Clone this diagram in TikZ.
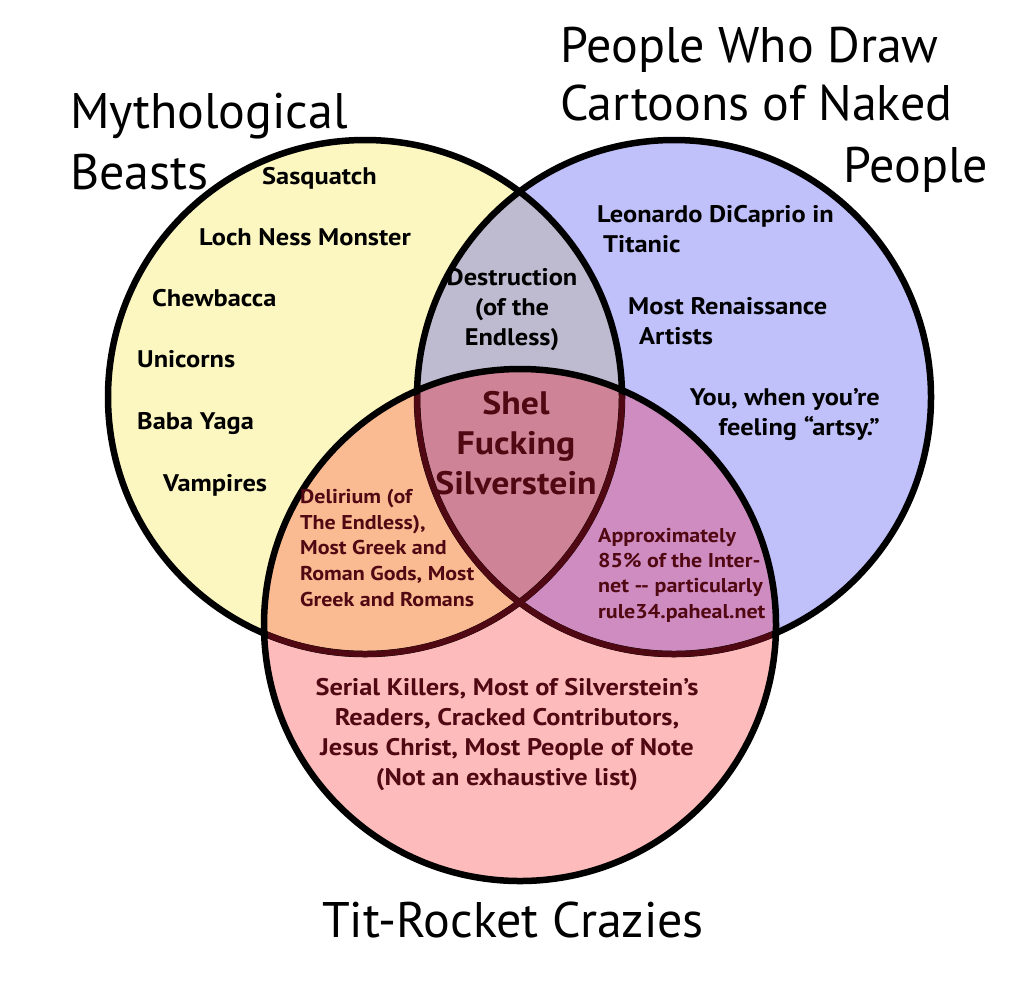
\documentclass[tikz,border=0pt]{standalone}
\usepackage{fontspec}
\setmainfont{PT Sans}[BoldFeatures={FakeStretch=1.1}]
\definecolor{yfill}{RGB}{252,246,192}
\definecolor{bfill}{RGB}{192,192,250}
\definecolor{lfill}{RGB}{190,186,207}
\definecolor{pfill}{RGB}{253,187,187}
\definecolor{ofill}{RGB}{250,186,146}
\definecolor{ufill}{RGB}{206,140,192}
\definecolor{mfill}{RGB}{206,132,150}
\definecolor{maroon}{RGB}{80,8,18}
\begin{document}
\begin{tikzpicture}[x=1pt,y=-1pt,
  lbl/.style={inner sep=0pt, font=\fontsize{24}{30}\selectfont\bfseries},
  lblin/.style={lbl, text=maroon},
  ttl/.style={inner sep=0pt, font=\fontsize{50}{58}\selectfont},
  ring/.style={line width=6.5pt},
  inring/.style={line width=6pt, draw=maroon}]
\useasboundingbox[fill=white] (0,0) rectangle (1024,994);
\coordinate (Y) at (365,397);
\coordinate (B) at (674,397);
\coordinate (P) at (520,625);
% base fills
\fill[yfill] (Y) circle[radius=257];
\fill[bfill] (B) circle[radius=257];
\begin{scope}
  \clip (Y) circle[radius=257];
  \fill[lfill] (B) circle[radius=257];
\end{scope}
\fill[pfill] (P) circle[radius=256];
\begin{scope}
  \clip (P) circle[radius=256];
  \fill[ofill] (Y) circle[radius=257];
  \fill[ufill] (B) circle[radius=257];
  \clip (Y) circle[radius=257];
  \fill[mfill] (B) circle[radius=257];
\end{scope}
% outlines
\draw[ring] (Y) circle[radius=257];
\draw[ring] (B) circle[radius=257];
\begin{scope}
  \clip (P) circle[radius=252];
  \draw[inring] (Y) circle[radius=257];
  \draw[inring] (B) circle[radius=257];
\end{scope}
\draw[ring] (P) circle[radius=256];
% titles
\node[ttl, anchor=base west] (t1a) at (70,128) {Mythological};
\node[ttl, anchor=base west] (t1b) at (70,189) {Beasts};
\node[ttl, anchor=base west] (t2a) at (560,62) {People Who Draw};
\node[ttl, anchor=base west] (t2b) at (560,120) {Cartoons of Naked};
\node[ttl, anchor=base west] (t2c) at (843,182) {People};
\node[ttl, anchor=base] (t3) at (513,937) {Tit-Rocket Crazies};
% yellow only
\node[lbl, anchor=base west] (sas) at (262,184) {Sasquatch};
\node[lbl, anchor=base west] (loch) at (199,245) {Loch Ness Monster};
\node[lbl, anchor=base west] (chew) at (152,306) {Chewbacca};
\node[lbl, anchor=base west] (uni) at (137,367) {Unicorns};
\node[lbl, anchor=base west] (baba) at (137,429) {Baba Yaga};
\node[lbl, anchor=base west] (vamp) at (163,491) {Vampires};
% yellow & blue
\node[lbl, align=center] (dest) at (512,310) {Destruction\\(of the\\Endless)};
% blue only
\node[lbl, align=left, anchor=west] (leo) at (597,229) {Leonardo DiCaprio in\\\hspace*{6pt}Titanic};
\node[lbl, align=left, anchor=west] (ren) at (628,321) {Most Renaissance\\\hspace*{11pt}Artists};
\node[lbl, align=right, anchor=east] (you) at (880,415) {You, when you’re\\feeling “artsy.”};
% centre
\node[lblin, align=center, font=\fontsize{32.5}{40}\selectfont\bfseries] (shel) at (516,443) {Shel\\Fucking\\Silverstein};
% yellow & pink
\node[lblin, align=left, anchor=west, font=\fontsize{20}{25.7}\selectfont\bfseries] (del) at (300,548) {Delirium (of\\The Endless),\\Most Greek and\\Roman Gods, Most\\Greek and Romans};
% blue & pink
\node[lblin, align=left, anchor=west, font=\fontsize{20}{25.3}\selectfont\bfseries] (apx) at (598,575) {Approximately\\85\% of the Inter-\\net -{}- particularly\\rule34.paheal.net};
% pink only
\node[lblin, align=center] (ser) at (507,735) {Serial Killers, Most of Silverstein’s\\Readers, Cracked Contributors,\\Jesus Christ, Most People of Note\\(Not an exhaustive list)};
\end{tikzpicture}
\end{document}
